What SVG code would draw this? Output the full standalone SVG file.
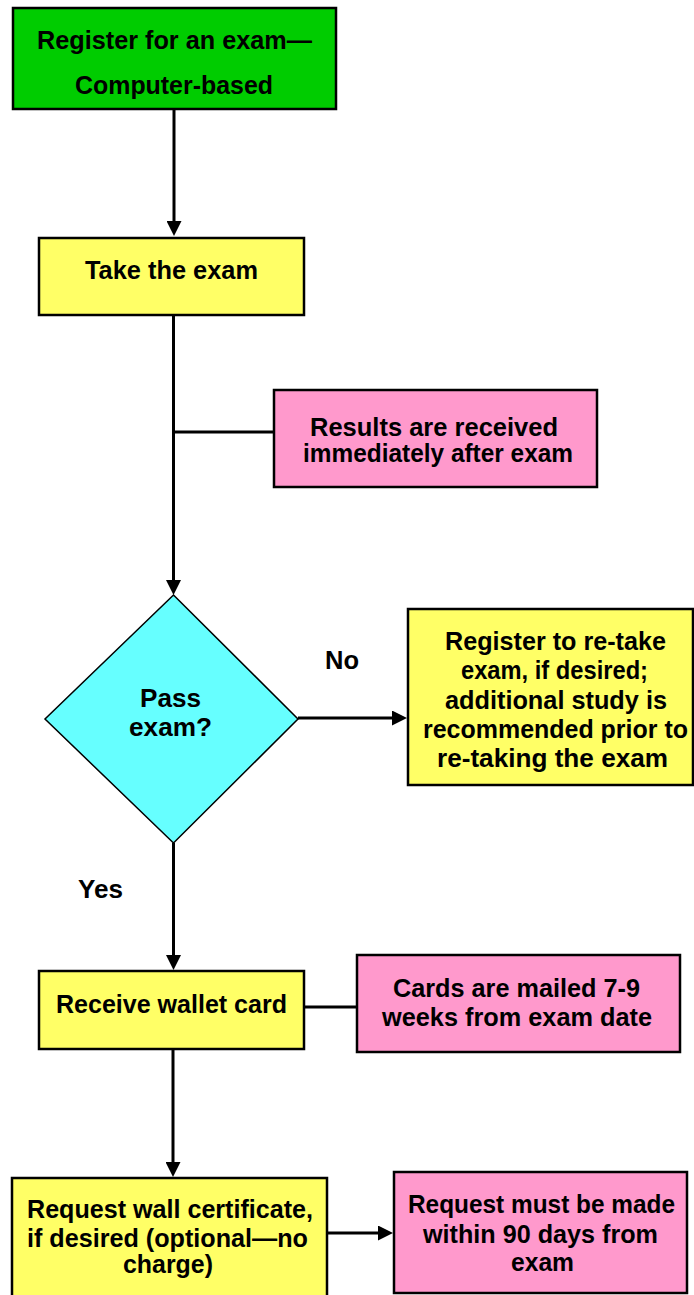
<svg xmlns="http://www.w3.org/2000/svg" width="694" height="1295" viewBox="0 0 694 1295">
<style>
.box{stroke:#000;stroke-width:2.5}
.green{fill:#00CC00}
.yellow{fill:#FFFF66}
.pink{fill:#FF99CC}
.cyan{fill:#66FFFF;stroke:#000;stroke-width:1.5}
.t{font-family:"Liberation Sans",Arial,sans-serif;font-weight:bold;font-size:25px;text-anchor:middle;fill:#000}
.c{stroke:#000;stroke-width:3;fill:none}
</style>
<defs>
<marker id="arr" markerUnits="userSpaceOnUse" viewBox="0 0 15 15" markerWidth="15" markerHeight="15" refX="10" refY="7.5" orient="auto">
<path d="M0,0 L15,7.5 L0,15 z" fill="#000"/>
</marker>
</defs>
<rect width="694" height="1295" fill="#fff"/>
<g id="connectors">
<line class="c" x1="174" y1="109" x2="174" y2="231" marker-end="url(#arr)"/>
<line class="c" x1="173.5" y1="315" x2="173.5" y2="590" marker-end="url(#arr)"/>
<line class="c" x1="173.5" y1="432" x2="274" y2="432"/>
<line class="c" x1="298" y1="718" x2="402" y2="718" marker-end="url(#arr)"/>
<line class="c" x1="173.5" y1="843" x2="173.5" y2="965" marker-end="url(#arr)"/>
<line class="c" x1="304" y1="1007" x2="357" y2="1007"/>
<line class="c" x1="173" y1="1049" x2="173" y2="1172" marker-end="url(#arr)"/>
<line class="c" x1="327" y1="1233" x2="388" y2="1233" marker-end="url(#arr)"/>
</g>
<g id="register">
<rect class="box green" x="13" y="8" width="323" height="101"/>
<text class="t" x="174.5" y="49" textLength="275" lengthAdjust="spacingAndGlyphs">Register for an exam—</text>
<text class="t" x="174" y="94" textLength="198" lengthAdjust="spacingAndGlyphs">Computer-based</text>
</g>
<g id="take">
<rect class="box yellow" x="39" y="238" width="265" height="77"/>
<text class="t" x="171.5" y="279" textLength="173" lengthAdjust="spacingAndGlyphs">Take the exam</text>
</g>
<g id="results">
<rect class="box pink" x="274" y="390" width="323" height="97"/>
<text class="t" x="434" y="436" textLength="248" lengthAdjust="spacingAndGlyphs">Results are received</text>
<text class="t" x="438" y="462" textLength="270" lengthAdjust="spacingAndGlyphs">immediately after exam</text>
</g>
<g id="pass">
<polygon class="cyan" points="173.5,595 298,719 173.5,843 45,719"/>
<text class="t" x="170.5" y="707" textLength="61" lengthAdjust="spacingAndGlyphs">Pass</text>
<text class="t" x="170.5" y="736" textLength="83" lengthAdjust="spacingAndGlyphs">exam?</text>
</g>
<g id="label-no">
<text class="t" x="342" y="669" textLength="34" lengthAdjust="spacingAndGlyphs">No</text>
</g>
<g id="label-yes">
<text class="t" x="100.5" y="898" textLength="45" lengthAdjust="spacingAndGlyphs">Yes</text>
</g>
<g id="retake">
<rect class="box yellow" x="408" y="609" width="285" height="176"/>
<text class="t" x="555.5" y="650" textLength="221" lengthAdjust="spacingAndGlyphs">Register to re-take</text>
<text class="t" x="554.5" y="679" textLength="187" lengthAdjust="spacingAndGlyphs">exam, if desired;</text>
<text class="t" x="556" y="709" textLength="222" lengthAdjust="spacingAndGlyphs">additional study is</text>
<text class="t" x="555.5" y="738" textLength="265" lengthAdjust="spacingAndGlyphs">recommended prior to</text>
<text class="t" x="552.5" y="767" textLength="231" lengthAdjust="spacingAndGlyphs">re-taking the exam</text>
</g>
<g id="wallet">
<rect class="box yellow" x="39" y="971" width="265" height="78"/>
<text class="t" x="171.5" y="1013" textLength="231" lengthAdjust="spacingAndGlyphs">Receive wallet card</text>
</g>
<g id="cards">
<rect class="box pink" x="357" y="955" width="323" height="97"/>
<text class="t" x="516.5" y="997" textLength="247" lengthAdjust="spacingAndGlyphs">Cards are mailed 7-9</text>
<text class="t" x="517" y="1026" textLength="270" lengthAdjust="spacingAndGlyphs">weeks from exam date</text>
</g>
<g id="certificate">
<rect class="box yellow" x="12" y="1178" width="315" height="130"/>
<text class="t" x="170" y="1218" textLength="286" lengthAdjust="spacingAndGlyphs">Request wall certificate,</text>
<text class="t" x="167.5" y="1247" textLength="281" lengthAdjust="spacingAndGlyphs">if desired (optional—no</text>
<text class="t" x="168" y="1273" textLength="90" lengthAdjust="spacingAndGlyphs">charge)</text>
</g>
<g id="deadline">
<rect class="box pink" x="394" y="1172" width="293" height="121"/>
<text class="t" x="541.5" y="1213" textLength="267" lengthAdjust="spacingAndGlyphs">Request must be made</text>
<text class="t" x="540.5" y="1243" textLength="235" lengthAdjust="spacingAndGlyphs">within 90 days from</text>
<text class="t" x="542.5" y="1271" textLength="63" lengthAdjust="spacingAndGlyphs">exam</text>
</g>
</svg>
